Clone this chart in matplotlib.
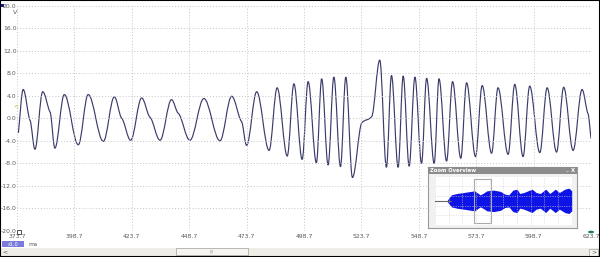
import numpy as np
import matplotlib
matplotlib.use('Agg')
import matplotlib.pyplot as plt
from matplotlib.path import Path
from matplotlib.patches import PathPatch, Rectangle, Circle

# waveform turning points (ms, V)
wave_t = [374.3, 376.4, 379.4, 381.5, 384.9, 388.1, 390.2, 394.3, 400.4, 404.7,
          411.3, 416.1, 419.3, 423.2, 428.0, 431.6, 436.0, 441.0, 443.9, 449.0,
          455.1, 462.1, 467.2, 471.5, 473.7, 478.1, 483.5, 487.0, 491.4, 494.3,
          497.9, 500.5, 504.1, 506.4, 509.2, 511.7, 514.6, 516.9, 519.8, 523.9,
          528.2, 531.7, 534.6, 536.8, 539.7, 541.9, 544.5, 547.0, 549.9, 552.1,
          555.4, 557.5, 560.8, 563.4, 567.0, 569.5, 573.4, 576.3, 580.4, 583.2,
          587.6, 590.5, 594.1, 597.0, 601.4, 604.6, 608.7, 611.8, 615.9, 619.8,
          622.4, 623.7]
wave_v = [-2.6, 5.1, -0.4, -5.5, 4.7, 1.1, -5.3, 4.2, -4.7, 4.2,
          -4.1, 3.8, 0.0, -3.9, 3.6, 0.2, -3.9, 3.3, 0.9, -3.9,
          3.5, -4.0, 3.9, -0.6, -4.8, 4.7, -5.7, 5.4, -6.7, 6.1,
          -7.3, 6.5, -7.9, 7.0, -8.3, 7.3, -8.6, 7.3, -10.5, -0.8,
          0.3, 10.3, -8.7, 7.6, -8.7, 7.5, -8.5, 7.3, -8.0, 7.1,
          -8.0, 7.0, -7.6, 6.5, -7.1, 6.3, -6.8, 5.8, -6.2, 5.4,
          -6.4, 6.0, -6.8, 5.7, -6.1, 5.4, -6.0, 5.5, -5.7, 5.1,
          0.8, -3.6]

x_ticks = [373.7, 398.7, 423.7, 448.7, 473.7, 498.7, 523.7, 548.7, 573.7, 598.7, 623.7]
y_ticks = [-20, -16, -12, -8, -4, 0, 4, 8, 12, 16, 20]

# zoom overview envelope (percent of capture, half height in V)
ov_x = [9, 10, 12, 16, 21, 26, 29, 33, 35, 38, 43, 48, 51, 54, 57, 60, 62, 65,
        71, 74, 77, 81, 84, 88, 91, 95, 98, 100]
ov_amp = [0.5, 2.2, 5.0, 6.1, 6.9, 7.8, 8.3, 5.0, 6.1, 8.3, 8.9, 7.8, 5.6, 5.0,
          8.9, 9.7, 6.1, 6.9, 9.7, 6.9, 6.1, 9.7, 6.1, 9.7, 6.9, 9.7, 10.5, 8.3]
ov_sel = [28.5, 41.0]

W, H = 600, 257
line_col = '#3c3c6c'
txt_col = '#5a5a5a'


def smooth_path(t, v, k=0.36):
    # slope at each point: flat at peaks/troughs, eased elsewhere
    n = len(t)
    m = [0.0] * n
    for i in range(1, n - 1):
        a = v[i] - v[i - 1]
        b = v[i + 1] - v[i]
        if a * b > 0:
            m[i] = 0.35 * (v[i + 1] - v[i - 1]) / (t[i + 1] - t[i - 1])
    m[0] = (v[1] - v[0]) / (t[1] - t[0])
    m[-1] = (v[-1] - v[-2]) / (t[-1] - t[-2])
    verts = [(t[0], v[0])]
    codes = [Path.MOVETO]
    for i in range(n - 1):
        dt = t[i + 1] - t[i]
        verts += [(t[i] + k * dt, v[i] + m[i] * k * dt),
                  (t[i + 1] - k * dt, v[i + 1] - m[i + 1] * k * dt),
                  (t[i + 1], v[i + 1])]
        codes += [Path.CURVE4] * 3
    return Path(verts, codes)


fig = plt.figure(figsize=(6, 2.57), dpi=100)
fig.patch.set_facecolor('white')

ax = fig.add_axes([17 / W, 1 - 231 / H, (591 - 17) / W, (231 - 5.5) / H])
ax.set_xlim(x_ticks[0], x_ticks[-1])
ax.set_ylim(-20, 20)
ax.set_xticks(x_ticks)
ax.set_xticklabels(['%.1f' % x for x in x_ticks])
ax.set_yticks(y_ticks)
ax.set_yticklabels(['%.1f' % y for y in y_ticks])
ax.grid(True, ls=(0, (1, 2)), color='#c4c4c4', lw=0.7)
ax.tick_params(length=0, labelsize=4.4, colors=txt_col)
ax.tick_params(axis='y', pad=0.3)
ax.tick_params(axis='x', pad=2)
for s in ax.spines.values():
    s.set_visible(False)
ax.add_patch(PathPatch(smooth_path(wave_t, wave_v), fill=False, ec=line_col, lw=0.85))

# screen decorations
fig.text(15 / W, 1 - 13 / H, 'V', fontsize=4.5, color=txt_col, ha='center', va='center')
fig.text(16 / W, 1 - 106 / H, '<', fontsize=4.5, color='#b5b520', ha='center', va='center')
fig.patches.append(Rectangle((0, 1 - 7 / H), 4 / W, 3 / H, transform=fig.transFigure,
                             fc='#1a1a80', ec='none'))
fig.patches.append(Rectangle((17 / W, 1 - 234 / H), 4 / W, 4 / H, transform=fig.transFigure,
                             fc='white', ec='#333333', lw=0.6))
fig.patches.append(Circle((591 / W, 1 - 232 / H), 3 / W, transform=fig.transFigure,
                          fc='#1d7a5c', ec='none'))
fig.patches.append(Rectangle((2 / W, 1 - 247 / H), 22 / W, 6 / H, transform=fig.transFigure,
                             fc='#7b7bdc', ec='none'))
fig.text(13 / W, 1 - 244 / H, 'x1.0', fontsize=3.5, color='white', ha='center', va='center')
fig.text(28 / W, 1 - 244 / H, 'ms', fontsize=4.5, color=txt_col, ha='left', va='center')

# scroll bar
fig.patches.append(Rectangle((0, 0), 1, 9 / H, transform=fig.transFigure,
                             fc='#eeede6', ec='none'))
fig.patches.append(Rectangle((176 / W, 2 / H), 72 / W, 7 / H, transform=fig.transFigure,
                             fc='#f6f5f0', ec='#a0a0a0', lw=0.5))
fig.text(212 / W, 5.5 / H, '|||', fontsize=3, color='#888888', ha='center', va='center')
fig.text(5 / W, 5 / H, '<', fontsize=4.5, color='#555555', ha='center', va='center')
fig.patches.append(Rectangle((589 / W, 1.5 / H), 9 / W, 7 / H, transform=fig.transFigure,
                             fc='#f6f5f0', ec='#a0a0a0', lw=0.5))
fig.text(593.5 / W, 5 / H, '>', fontsize=4.5, color='#555555', ha='center', va='center')
fig.patches.append(Rectangle((0, 0), 1, 1, transform=fig.transFigure,
                             fill=False, ec='black', lw=1.5))

# zoom overview window
ax_win = fig.add_axes([428 / W, 1 - 227.7 / H, 149 / W, 61 / H])
ax_win.set_facecolor('#f1f1f1')
ax_win.set_xticks([])
ax_win.set_yticks([])
for s in ax_win.spines.values():
    s.set_color('#9a9a9a')
    s.set_linewidth(0.8)
fig.patches.append(Rectangle((428 / W, 1 - 173.5 / H), 149 / W, 6.8 / H,
                             transform=fig.transFigure, fc='#8c8c8c', ec='none', zorder=5))
fig.text(430 / W, 1 - 170.2 / H, 'Zoom Overview', fontsize=3.8, color='white',
         weight='bold', ha='left', va='center', zorder=6)
fig.text(566 / W, 1 - 170 / H, '_', fontsize=3.8, color='white', ha='center',
         va='center', zorder=6)
fig.text(573 / W, 1 - 170.2 / H, 'X', fontsize=3.8, color='white', weight='bold',
         ha='center', va='center', zorder=6)

ax_ov = fig.add_axes([435 / W, 1 - 225 / H, 136.7 / W, 48.3 / H])
ax_ov.set_facecolor('white')
ax_ov.set_xlim(0, 100)
ax_ov.set_ylim(-20, 20)
ax_ov.set_xticks(np.arange(0, 101, 10))
ax_ov.set_yticks([-12, -4, 4, 12])
ax_ov.tick_params(length=0, labelbottom=False, labelleft=False)
ax_ov.grid(True, ls=(0, (1, 1.5)), color='#cfcfcf', lw=0.5)
for s in ax_ov.spines.values():
    s.set_visible(False)
ax_ov.plot([0, 12], [0, 0], color='#666666', lw=0.8)
ax_ov.fill_between(ov_x, [-a for a in ov_amp], ov_amp, color='#0f14e6', lw=0)
ax_ov.add_patch(Rectangle((ov_sel[0], -18.5), ov_sel[1] - ov_sel[0], 37,
                          fill=False, ec='#aaaaaa', lw=0.8))

fig.savefig('out.png', dpi=100)
